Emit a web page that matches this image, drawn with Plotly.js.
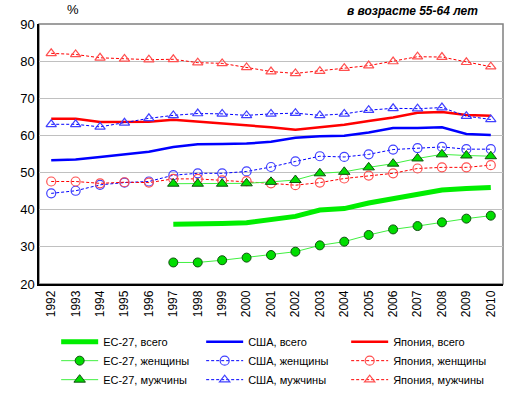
<!DOCTYPE html>
<html><head><meta charset="utf-8">
<script src="https://cdn.plot.ly/plotly-3.0.1.min.js"></script>
<style>body{margin:0;background:#fff}#c{width:518px;height:396px}</style>
</head><body><div id="c"></div>
<script>
const years = ['1992','1993','1994','1995','1996','1997','1998','1999','2000','2001','2002','2003','2004','2005','2006','2007','2008','2009','2010'];
const euYears = years.slice(5);
const euTotal = [36.1,36.1,36.3,36.5,37.5,38.2,39.9,40.3,41.8,43.0,44.1,45.3,45.7,46.0];
const usTotal = [53.3,53.5,54.2,54.9,55.6,56.9,57.6,57.7,57.8,58.3,59.4,59.8,59.9,60.8,62.0,62.0,62.2,60.4,60.1];
const jpTotal = [64.5,64.5,63.6,63.6,63.7,64.2,63.7,63.3,62.8,62.2,61.5,62.1,62.9,63.9,64.8,66.1,66.3,65.5,65.3];
const euWomen = [25.8,25.8,26.4,27.1,27.8,28.7,30.4,31.4,33.2,34.7,35.6,36.6,37.6,38.4];
const usWomen = [44.4,45.1,46.7,47.3,47.6,49.3,49.8,49.8,50.3,51.5,53.0,54.4,54.2,54.9,56.2,56.6,56.9,56.3,56.3];
const jpWomen = [47.6,47.6,47.1,47.4,47.3,48.3,48.3,47.9,47.7,47.1,46.6,47.3,48.4,49.2,49.8,51.1,51.4,51.4,52.0];
const euMen = [47.0,47.0,47.0,47.1,47.5,48.0,49.8,50.2,51.4,52.4,53.8,54.9,54.6,54.4];
const usMen = [63.0,63.0,62.3,63.4,64.6,65.4,65.9,65.8,65.4,65.8,66.0,65.4,65.8,66.8,67.3,67.2,67.5,65.2,64.3];
const jpMen = [82.1,81.8,80.9,80.6,80.4,80.5,79.6,79.4,78.3,77.2,76.7,77.3,78.1,78.8,79.9,81.2,81.1,79.7,78.5];
const names = ['ЕС-27, всего','США, всего','Япония, всего','ЕС-27, женщины','США, женщины','Япония, женщины','ЕС-27, мужчины','США, мужчины','Япония, мужчины'];

const G='#00ee00', B='#0000ff', R='#ff0000';
const traces = [
 {x:euYears,y:euTotal,name:names[0],mode:'lines',line:{color:G,width:5}},
 {x:years,y:usTotal,name:names[1],mode:'lines',line:{color:B,width:2.5}},
 {x:years,y:jpTotal,name:names[2],mode:'lines',line:{color:R,width:2.5}},
 {x:euYears,y:euWomen,name:names[3],mode:'lines+markers',line:{color:'#40f040',width:1},marker:{symbol:'circle',size:9,color:'#00dd00',line:{color:'#105010',width:1}}},
 {x:years,y:usWomen,name:names[4],mode:'lines+markers',line:{color:B,width:1,dash:'3px,2px'},marker:{symbol:'circle-open',size:9,color:'#4040ff',line:{width:1.2}}},
 {x:years,y:jpWomen,name:names[5],mode:'lines+markers',line:{color:R,width:1,dash:'3px,2px'},marker:{symbol:'circle-open',size:9,color:'#ff5050',line:{width:1.2}}},
 {x:euYears,y:euMen,name:names[6],mode:'lines+markers',line:{color:'#40f040',width:1},marker:{symbol:'triangle-up',size:10,color:'#00dd00',line:{color:'#105010',width:1}}},
 {x:years,y:usMen,name:names[7],mode:'lines+markers',line:{color:B,width:1,dash:'3px,2px'},marker:{symbol:'triangle-up-open',size:9,color:'#4040ff',line:{width:1.2}}},
 {x:years,y:jpMen,name:names[8],mode:'lines+markers',line:{color:R,width:1,dash:'3px,2px'},marker:{symbol:'triangle-up-open',size:9,color:'#ff5050',line:{width:1.2}}}
];
const layout = {
 width:518,height:396,
 margin:{l:39,r:15,t:24,b:112,autoexpand:false},
 paper_bgcolor:'#fff',plot_bgcolor:'#fff',
 font:{family:'Liberation Sans, Arial, sans-serif',color:'#000'},
 showlegend:true,
 xaxis:{type:'category',categoryorder:'array',categoryarray:years,range:[-0.5,18.5],
   showgrid:false,showline:true,linecolor:'#000',linewidth:1.5,ticks:'',tickangle:-90,
   tickfont:{size:12},zeroline:false},
 yaxis:{range:[20,90],dtick:10,showgrid:true,gridcolor:'#c0c0c0',gridwidth:1,
   showline:true,linecolor:'#000',linewidth:1.5,ticks:'',tickfont:{size:13},zeroline:false},
 shapes:[{type:'rect',xref:'paper',yref:'paper',x0:0,x1:1,y0:0,y1:1,line:{color:'#808080',width:1.5},layer:'below'}],
 annotations:[
  {text:'%',xref:'paper',yref:'paper',x:0.073,y:1.02,xanchor:'center',yanchor:'bottom',showarrow:false,font:{size:13}},
  {text:'<b><i>в возрасте 55-64 лет</i></b>',xref:'paper',yref:'paper',x:0.95,y:1.015,xanchor:'right',yanchor:'bottom',showarrow:false,font:{size:12}}
 ],
 legend:{orientation:'h',x:0.037,y:-0.166,xanchor:'left',yanchor:'top',entrywidth:93,entrywidthmode:'pixels',
   itemwidth:37,font:{size:11},tracegroupgap:0,bgcolor:'rgba(0,0,0,0)'}
};
Plotly.newPlot('c',traces,layout,{displayModeBar:false});
</script></body></html>
